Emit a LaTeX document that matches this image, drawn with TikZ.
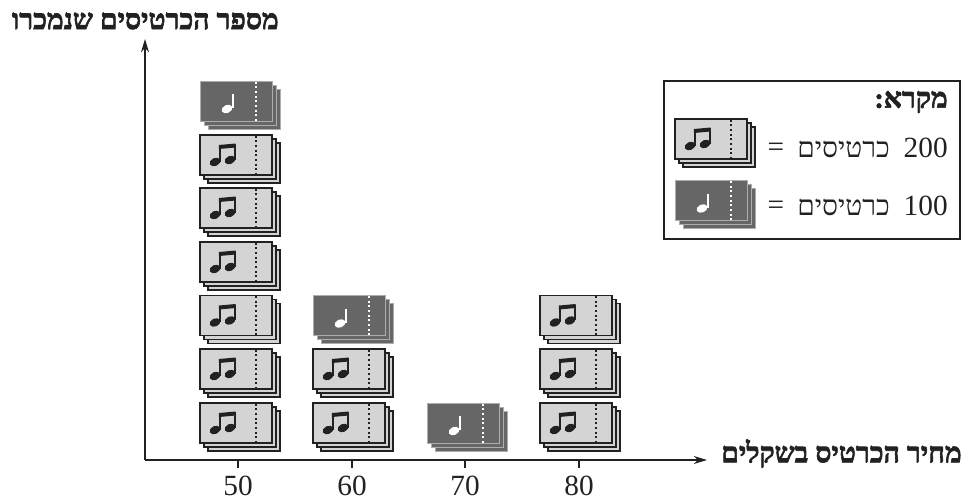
\documentclass[tikz,border=0pt]{standalone}
\usepackage{fontspec}
\setmainfont{Liberation Serif}
\newfontfamily\hebfont[Script=Hebrew]{Liberation Serif}
\newfontfamily\hebboldfont[Script=Hebrew,FakeBold=2.2]{Liberation Serif Bold}
\TeXXeTstate=1
\usetikzlibrary{arrows.meta}
\definecolor{cardlight}{gray}{0.83}
\definecolor{carddark}{gray}{0.40}
\definecolor{edgedark}{gray}{0.68}
\definecolor{inkblack}{gray}{0.13}
\tikzset{
  x=0.75pt,y=-0.75pt,
  lightcard/.style={draw=inkblack,fill=cardlight,line width=0.8pt},
  darkcard/.style={draw=edgedark,fill=carddark,line width=0.7pt},
  axisline/.style={draw=inkblack,line width=0.9pt,-{Stealth[length=10pt,width=6pt]}},
  tickline/.style={draw=inkblack,line width=0.8pt},
  numlabel/.style={font=\fontsize{22}{22}\selectfont,text=inkblack,inner sep=0pt},
  heblabel/.style={font=\hebboldfont\fontsize{21.2}{22}\selectfont,text=inkblack,inner sep=0pt},
  hebplain/.style={font=\hebfont\fontsize{21}{22}\selectfont,text=inkblack,inner sep=0pt},
  lighttkt/.pic={
    \draw[lightcard] (8,8) rectangle (80,48);
    \draw[lightcard] (4,4) rectangle (76,44);
    \draw[lightcard] (0,0) rectangle (72,40);
    \draw[inkblack,line width=1.1pt,dash pattern=on 1.6pt off 1.9pt] (56,0.5) -- (56,39.5);
    \fill[inkblack] (15,27) ellipse [x radius=4.2pt,y radius=3pt,rotate=25];
    \fill[inkblack] (30,25) ellipse [x radius=4.2pt,y radius=3pt,rotate=25];
    \draw[inkblack,line width=1.2pt] (19.7,26.5) -- (19.7,11);
    \draw[inkblack,line width=1.2pt] (34.7,24.5) -- (34.7,9);
    \fill[inkblack] (18.9,10) -- (35.5,8.5) -- (35.5,12.5) -- (18.9,14) -- cycle;
  },
  darktkt/.pic={
    \draw[darkcard] (8,8) rectangle (80,48);
    \draw[darkcard] (4,4) rectangle (76,44);
    \draw[darkcard] (0,0) rectangle (72,40);
    \draw[white,line width=1.1pt,dash pattern=on 1.6pt off 1.9pt] (56,0.5) -- (56,39.5);
    \fill[white] (27,28) ellipse [x radius=4.2pt,y radius=3pt,rotate=25];
    \draw[white,line width=1.5pt] (32.5,27) -- (32.5,13);
  }
}
\begin{document}
\begin{tikzpicture}
\useasboundingbox (0,0) rectangle (968,501);
% axes
\coordinate (origin) at (145,460);
\coordinate (ytip) at (145,39);
\coordinate (xtip) at (707,460);
\draw[axisline] (origin) -- (ytip);
\draw[axisline] (origin) -- (xtip);
% ticks
\coordinate (k50) at (238,460);
\coordinate (k60) at (352,460);
\coordinate (k70) at (465,460);
\coordinate (k80) at (579,460);
\draw[tickline] (k50) -- ++(0,8);
\draw[tickline] (k60) -- ++(0,8);
\draw[tickline] (k70) -- ++(0,8);
\draw[tickline] (k80) -- ++(0,8);
% column 50
\pic (a7) at (200,81) {darktkt};
\pic (a6) at (200,135) {lighttkt};
\pic (a5) at (200,188) {lighttkt};
\pic (a4) at (200,242) {lighttkt};
\pic (a3) at (200,295.5) {lighttkt};
\pic (a2) at (200,349) {lighttkt};
\pic (a1) at (200,403) {lighttkt};
% column 60
\pic (b3) at (313,295.5) {darktkt};
\pic (b2) at (313,349) {lighttkt};
\pic (b1) at (313,403) {lighttkt};
% column 70
\pic (c1) at (427,403) {darktkt};
% column 80
\pic (d3) at (540,295.5) {lighttkt};
\pic (d2) at (540,349) {lighttkt};
\pic (d1) at (540,403) {lighttkt};
% tick labels
\node[numlabel] (t50) at (238,486) {50};
\node[numlabel] (t60) at (352,486) {60};
\node[numlabel] (t70) at (465,486) {70};
\node[numlabel] (t80) at (579,486) {80};
% axis titles
\node[heblabel,anchor=east] (ytitle) at (279,21) {\beginR מספר הכרטיסים שנמכרו\endR};
\node[heblabel,anchor=east] (xtitle) at (962,453.5) {\beginR מחיר הכרטיס בשקלים\endR};
% legend
\node[draw=inkblack,line width=0.9pt,minimum width=222pt,minimum height=118.5pt,inner sep=0pt] (legend) at (812,160) {};
\node[heblabel,anchor=east] (ltitle) at (948,102) {\beginR מקרא:\endR};
\pic (l1) at (675,119) {lighttkt};
\pic (l2) at (675,180.5) {darktkt};
\node[numlabel,anchor=east] (n200) at (948,147.5) {200};
\node[numlabel,anchor=east] (n100) at (948,206) {100};
\node[hebplain,anchor=east] (w200) at (890,149) {\beginR כרטיסים\endR};
\node[hebplain,anchor=east] (w100) at (890,207) {\beginR כרטיסים\endR};
\node[numlabel] (e1) at (776,150) {=};
\node[numlabel] (e2) at (776,208) {=};
\end{tikzpicture}
\end{document}
